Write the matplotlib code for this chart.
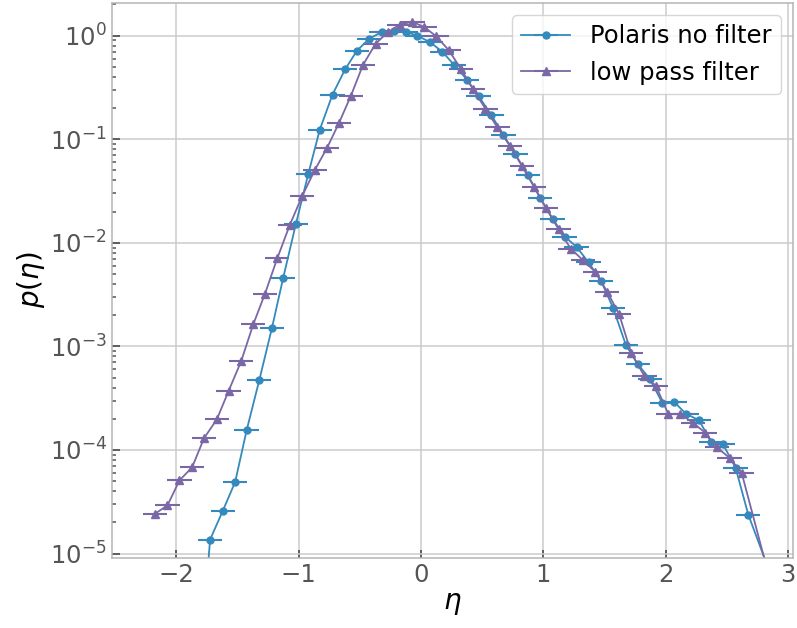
import matplotlib
matplotlib.use("Agg")
import matplotlib.pyplot as plt

# Polaris, no filter
eta_raw = [-1.82, -1.725, -1.62, -1.52, -1.426, -1.323, -1.22, -1.127, -1.024, -0.923,
           -0.828, -0.724, -0.621, -0.524, -0.426, -0.322, -0.224, -0.126, -0.03, 0.075,
           0.173, 0.271, 0.374, 0.471, 0.575, 0.673, 0.771, 0.874, 0.972, 1.075,
           1.173, 1.271, 1.369, 1.472, 1.570, 1.674, 1.772, 1.869, 1.972, 2.07,
           2.168, 2.272, 2.37, 2.467, 2.571, 2.674, 2.87]
p_raw = [5e-7, 1.36e-5, 2.6e-5, 4.9e-5, 1.55e-4, 4.7e-4, 1.49e-3, 4.6e-3, 0.0151, 0.0458,
         0.124, 0.27, 0.473, 0.717, 0.93, 1.086, 1.11, 1.09, 1.0, 0.862,
         0.70, 0.52, 0.377, 0.26, 0.17, 0.110, 0.0714, 0.0448, 0.0273, 0.0171,
         0.0115, 9.14e-3, 6.46e-3, 4.26e-3, 2.34e-3, 1.03e-3, 6.72e-4, 4.85e-4, 2.85e-4, 2.89e-4,
         2.22e-4, 1.94e-4, 1.19e-4, 1.14e-4, 6.7e-5, 2.38e-5, 5.7e-6]

# low pass filter
eta_lp = [-2.173, -2.073, -1.975, -1.872, -1.774, -1.670, -1.573, -1.470, -1.372, -1.277,
          -1.176, -1.073, -0.972, -0.869, -0.768, -0.673, -0.573, -0.475, -0.371, -0.273,
          -0.175, -0.072, 0.026, 0.124, 0.227, 0.325, 0.423, 0.526, 0.624, 0.727,
          0.825, 0.923, 1.021, 1.124, 1.222, 1.325, 1.423, 1.521, 1.619, 1.717,
          1.826, 1.918, 2.021, 2.119, 2.223, 2.321, 2.418, 2.522, 2.62, 2.87]
p_lp = [2.43e-5, 2.92e-5, 5.08e-5, 6.79e-5, 1.30e-4, 1.97e-4, 3.72e-4, 7.23e-4, 1.63e-3, 3.2e-3,
        7.06e-3, 0.0149, 0.0283, 0.0504, 0.0828, 0.142, 0.264, 0.522, 0.838, 1.076,
        1.28, 1.36, 1.21, 0.985, 0.722, 0.478, 0.306, 0.197, 0.130, 0.0859,
        0.055, 0.0348, 0.0217, 0.0135, 8.81e-3, 6.75e-3, 5.25e-3, 3.37e-3, 2.04e-3, 8.63e-4,
        5.15e-4, 4.18e-4, 2.22e-4, 2.22e-4, 1.83e-4, 1.47e-4, 1.06e-4, 8.36e-5, 6.03e-5, 4.6e-6]

bin_halfwidth = 0.1

fig, ax = plt.subplots(figsize=(7.97, 6.28), dpi=100)
fig.subplots_adjust(left=0.14, right=0.995, top=0.996, bottom=0.112)

ax.errorbar(eta_raw, p_raw, xerr=bin_halfwidth, color="#348ABD", marker="o", ms=5,
            lw=1.3, elinewidth=1.5, label="Polaris no filter")
ax.errorbar(eta_lp, p_lp, xerr=bin_halfwidth, color="#7A68A6", marker="^", ms=5.5,
            lw=1.3, elinewidth=1.5, label="low pass filter")

ax.set_yscale("log")
ax.set_xlim(-2.53, 3.04)
ax.set_ylim(10 ** -5.04, 10 ** 0.32)

ax.grid(True, which="major", color="#cbcbcb", lw=1.1)
ax.set_axisbelow(True)
for s in ax.spines.values():
    s.set_color("#b5b5b5")
    s.set_linewidth(1.1)

ax.tick_params(which="major", direction="in", length=6, width=1.3, color="#555555",
               labelcolor="#555555", labelsize=17.5)
ax.tick_params(which="minor", direction="in", length=3, width=1.1, color="#555555")
ax.tick_params(axis="x", which="minor", bottom=False)

ax.set_xlabel(r"$\eta$", fontsize=20, labelpad=2)
ax.set_ylabel(r"$p(\eta)$", fontsize=20, labelpad=2)

leg = ax.legend(loc="upper right", fontsize=17.5, numpoints=1, framealpha=0.8,
                edgecolor="#cccccc", borderaxespad=0.5, handlelength=2.0)

fig.savefig("out.png", dpi=100)
